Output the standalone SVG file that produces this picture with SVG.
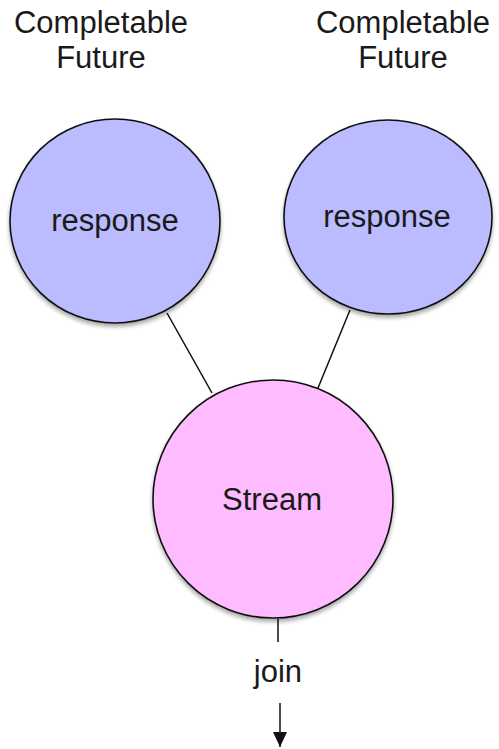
<svg xmlns="http://www.w3.org/2000/svg" width="499" height="749" viewBox="0 0 499 749">
  <style>
    text { font-family: "Liberation Sans", Arial, sans-serif; font-size: 31px; fill: #1a1a1a; text-anchor: middle; }
    .node ellipse { stroke: #111; stroke-width: 1.6; filter: url(#shadow); }
    .resp ellipse { fill: #bbbbff; }
    .stream ellipse { fill: #ffbbff; }
    .edge { stroke: #111; stroke-width: 1.5; fill: none; }
  </style>
  <defs>
    <filter id="shadow" x="-10%" y="-10%" width="120%" height="125%">
      <feGaussianBlur in="SourceAlpha" stdDeviation="2"/>
      <feOffset dx="0" dy="3" result="b"/>
      <feComponentTransfer><feFuncA type="linear" slope="0.35"/></feComponentTransfer>
      <feMerge><feMergeNode/><feMergeNode in="SourceGraphic"/></feMerge>
    </filter>
    <!-- filled arrowhead, tip at the end of the line -->
    <marker id="arrow" markerWidth="16" markerHeight="14" refX="15" refY="7" orient="auto" markerUnits="userSpaceOnUse" viewBox="0 0 16 14">
      <path d="M0,0 L15,7 L0,14 Z" fill="#111"/>
    </marker>
  </defs>

  <!-- titles -->
  <g id="title-left">
    <text x="101" y="33">Completable</text>
    <text x="101" y="68">Future</text>
  </g>
  <g id="title-right">
    <text x="403" y="33">Completable</text>
    <text x="403" y="68">Future</text>
  </g>

  <!-- connectors -->
  <g id="connectors">
    <line class="edge" x1="167" y1="313" x2="212" y2="393"/>
    <line class="edge" x1="350" y1="310" x2="318" y2="388"/>
    <line class="edge" x1="278" y1="619" x2="278" y2="642"/>
    <line class="edge" x1="280" y1="703" x2="280" y2="747" marker-end="url(#arrow)"/>
  </g>

  <g id="response-left" class="node resp">
    <ellipse cx="115" cy="221" rx="105" ry="102"/>
    <text x="115" y="231">response</text>
  </g>
  <g id="response-right" class="node resp">
    <ellipse cx="388" cy="217" rx="104" ry="97"/>
    <text x="387" y="227">response</text>
  </g>
  <g id="stream" class="node stream">
    <ellipse cx="273" cy="499" rx="120" ry="119"/>
    <text x="272" y="510">Stream</text>
  </g>

  <g id="join-label">
    <text x="278" y="682">join</text>
  </g>
</svg>
